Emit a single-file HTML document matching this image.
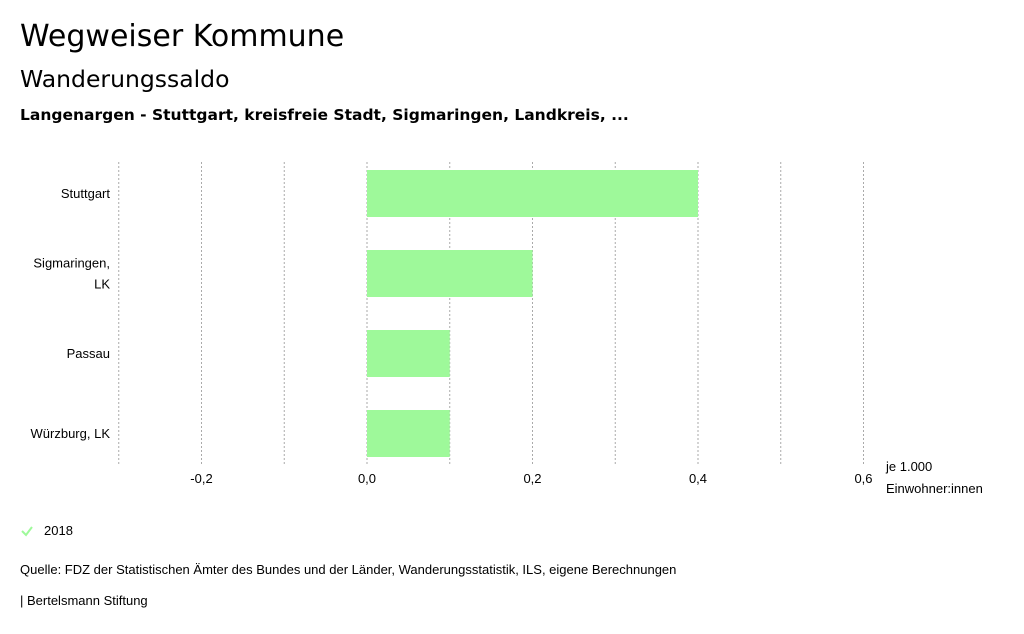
<!DOCTYPE html>
<html><head><meta charset="utf-8"><style>
body{margin:0;width:1024px;height:634px;background:#fff;font-family:"Liberation Sans",sans-serif;color:#000;overflow:hidden;position:relative}
.t{position:absolute;white-space:nowrap}
</style></head><body>
<div class="t" style="left:20px;top:19px;font-size:30px;font-family:'DejaVu Sans',sans-serif">Wegweiser Kommune</div>
<div class="t" style="left:20px;top:65px;font-size:23.5px;font-family:'DejaVu Sans',sans-serif">Wanderungssaldo</div>
<div class="t" style="left:20px;top:106px;font-size:15.5px;font-weight:bold;font-family:'DejaVu Sans',sans-serif">Langenargen - Stuttgart, kreisfreie Stadt, Sigmaringen, Landkreis, ...</div>
<svg id="chart" width="1024" height="520" style="position:absolute;left:0;top:0"></svg>
<svg class="t" style="left:20px;top:524px" width="14" height="14"><path d="M2 7 L6 11 L12 3" stroke="#9ef99a" stroke-width="2" fill="none"/></svg>
<div class="t" style="left:44px;top:523px;font-size:13px">2018</div>
<div class="t" style="left:20px;top:562px;font-size:13px">Quelle: FDZ der Statistischen Ämter des Bundes und der Länder, Wanderungsstatistik, ILS, eigene Berechnungen</div>
<div class="t" style="left:20px;top:593px;font-size:13px">| Bertelsmann Stiftung</div>
<script>
const categories=[["Stuttgart"],["Sigmaringen,","LK"],["Passau"],["Würzburg, LK"]];
const values=[0.4,0.2,0.1,0.1];
const ticks=[-0.2,0,0.2,0.4,0.6];
const tickLabels=["-0,2","0,0","0,2","0,4","0,6"];
const grid=[-0.3,-0.2,-0.1,0,0.1,0.2,0.3,0.4,0.5,0.6];
const svg=document.getElementById('chart');
const NS="http://www.w3.org/2000/svg";
const x=v=>367+v*827.5;
const top0=162,band=80;
function mk(t,a){const e=document.createElementNS(NS,t);for(const k in a)e.setAttribute(k,a[k]);svg.appendChild(e);return e;}
grid.forEach(g=>{const l=mk('line',{x1:x(g),x2:x(g),y1:top0,y2:464,stroke:'#aaa','stroke-dasharray':'2,2','stroke-width':1});

});
values.forEach((v,i)=>{const y=top0+i*band+8;
const r=mk('rect',{x:Math.min(x(0),x(v)),y:y,width:Math.abs(x(v)-x(0)),height:47,fill:'#9ef99a'});


const lines=categories[i];
lines.forEach((s,j)=>{const t=mk('text',{x:110,y:y+23+5+(j-(lines.length-1)/2)*21,'text-anchor':'end','font-size':13,'font-family':'Liberation Sans,sans-serif'});t.textContent=s;

});});
ticks.forEach((v,i)=>{const t=mk('text',{x:x(v),y:483,'text-anchor':'middle','font-size':13,'font-family':'Liberation Sans,sans-serif'});t.textContent=tickLabels[i];

});
[["je 1.000",471],["Einwohner:innen",493]].forEach(a=>{const t=mk('text',{x:886,y:a[1],'font-size':13,'font-family':'Liberation Sans,sans-serif'});t.textContent=a[0];

});
</script>
</body></html>
